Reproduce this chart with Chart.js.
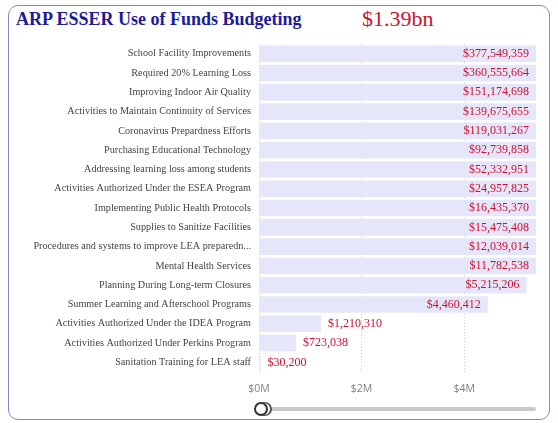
<!DOCTYPE html>
<html>
<head>
<meta charset="utf-8">
<script src="https://cdn.jsdelivr.net/npm/chart.js@4.4.1/dist/chart.umd.min.js"></script>
<style>
  body { margin: 0; background: #fff; width: 558px; height: 423px; position: relative; overflow: hidden; }
  #frame { position: absolute; left: 8px; top: 5px; width: 540px; height: 413px; border: 1px solid #8088d8; border-radius: 10px; }
  #title { position: absolute; left: 16px; top: 9px; font: bold 18px "Liberation Serif", "DejaVu Serif", serif; color: #1c1c9a; }
  #total { position: absolute; left: 362px; top: 6px; font: 22px "Liberation Serif", "DejaVu Serif", serif; color: #cc1030; }
  #wrap { position: absolute; left: 0; top: 30px; width: 558px; height: 372px; }
  #track { position: absolute; left: 262px; top: 407px; width: 274px; height: 4px; background: #c8c8c8; border-radius: 2px; }
  #knob { position: absolute; left: 254px; top: 402px; width: 10px; height: 10px; border: 2px solid #333; border-radius: 50%; background: #fff; box-shadow: 3px 0 0 -1px #fff, 4px 0 0 0 #555; }
</style>
</head>
<body>
<div id="frame"></div>
<div id="title">ARP ESSER Use of Funds Budgeting</div>
<div id="total">$1.39bn</div>
<div id="wrap"><canvas id="chart"></canvas></div>
<div id="track"></div>
<div id="knob"></div>
<script>
"use strict";

const categories = [
  "School Facility Improvements",
  "Required 20% Learning Loss",
  "Improving Indoor Air Quality",
  "Activities to Maintain Continuity of Services",
  "Coronavirus Prepardness Efforts",
  "Purchasing Educational Technology",
  "Addressing learning loss among students",
  "Activities Authorized Under the ESEA Program",
  "Implementing Public Health Protocols",
  "Supplies to Sanitize Facilities",
  "Procedures and systems to improve LEA preparedn...",
  "Mental Health Services",
  "Planning During Long-term Closures",
  "Summer Learning and Afterschool Programs",
  "Activities Authorized Under the IDEA Program",
  "Activities Authorized Under Perkins Program",
  "Sanitation Training for LEA staff",
];
const amounts = [
  377549359, 360555664, 151174698, 139675655, 119031267, 92739858,
  52332951, 24957825, 16435370, 15475408, 12039014, 11782538,
  5215206, 4460412, 1210310, 723038, 30200,
];
const xTicks = [0, 2000000, 4000000];

// zoomed view of the axis (slider at the left end)
const xMax = 5400000;

function money(v) {
  return "$" + v.toLocaleString("en-US");
}

// value labels: outside the bar if they fit, otherwise inside at the bar end
const barLabels = {
  id: "barLabels",
  afterDatasetsDraw(chart) {
    const ctx = chart.ctx;
    const area = chart.chartArea;
    const meta = chart.getDatasetMeta(0);
    ctx.save();
    ctx.font = "12px 'Liberation Serif', serif";
    ctx.fillStyle = "#cc1030";
    ctx.textBaseline = "middle";
    meta.data.forEach((bar, i) => {
      const text = money(amounts[i]);
      const w = ctx.measureText(text).width;
      const end = Math.min(bar.x, area.right);
      if (end + 7 + w <= area.right) {
        ctx.textAlign = "left";
        ctx.fillText(text, end + 7, bar.y);
      } else {
        ctx.textAlign = "right";
        ctx.fillText(text, end - 7, bar.y);
      }
    });
    ctx.restore();
  },
};

new Chart(document.getElementById("chart"), {
  type: "bar",
  data: {
    labels: categories,
    datasets: [
      {
        data: amounts,
        backgroundColor: "#e6e6fa",
        borderWidth: 0,
        categoryPercentage: 0.86,
        barPercentage: 1,
      },
    ],
  },
  options: {
    indexAxis: "y",
    responsive: true,
    maintainAspectRatio: false,
    animation: false,
    layout: { padding: { top: 12, right: 22, left: 0, bottom: 0 } },
    plugins: {
      legend: { display: false },
      tooltip: { enabled: false },
    },
    scales: {
      x: {
        min: 0,
        max: xMax,
        afterBuildTicks(scale) {
          scale.ticks = xTicks.map((v) => ({ value: v }));
        },
        afterFit(scale) {
          scale.height = 30;
        },
        grid: { color: "#c8c8c8", lineWidth: 1, drawTicks: false },
        border: { display: false, dash: [1, 2] },
        ticks: {
          padding: 11,
          color: "#808080",
          font: { family: "'Open Sans', sans-serif", size: 10.5 },
          callback: (v) => "$" + v / 1000000 + "M",
        },
      },
      y: {
        afterFit(scale) {
          scale.width = 259;
        },
        grid: { display: false, drawTicks: false },
        border: { display: false },
        ticks: {
          padding: 8,
          color: "#444",
          autoSkip: false,
          font: { family: "'Liberation Serif', serif", size: 10.2 },
        },
      },
    },
  },
  plugins: [barLabels],
});
</script>
</body>
</html>
